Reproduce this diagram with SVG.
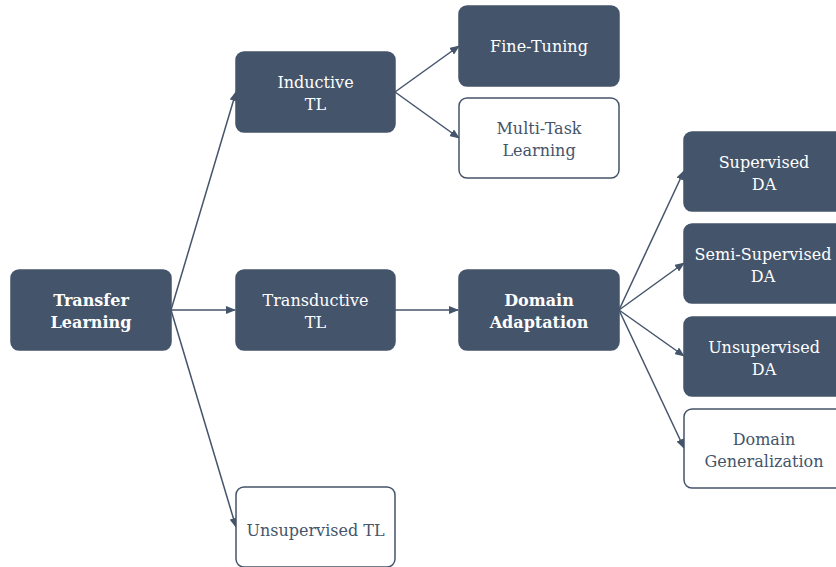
<svg xmlns="http://www.w3.org/2000/svg" width="836" height="567" viewBox="0 0 836 567">
<defs>
<marker id="ah" markerWidth="10" markerHeight="8" refX="9" refY="4" orient="auto" markerUnits="userSpaceOnUse">
<path d="M0,0 L10,4 L0,8 Z" fill="#44546A"/>
</marker>
<style>
.dark rect{fill:#44546A;stroke:#44546A;stroke-width:1.5}
.light rect{fill:#FFFFFF;stroke:#44546A;stroke-width:1.5}
text{font-family:"DejaVu Serif",serif;font-size:16px;text-anchor:middle}
.dark text{fill:#FFFFFF}
.light text{fill:#44546A}
.b{font-weight:bold}
#connectors line{stroke:#44546A;stroke-width:1.5;marker-end:url(#ah)}
</style>
</defs>
<rect width="836" height="567" fill="#FFFFFF"/>
<g id="connectors">
<line x1="171" y1="310" x2="236" y2="92"/>
<line x1="171" y1="310" x2="235" y2="310"/>
<line x1="171" y1="310" x2="236" y2="527"/>
<line x1="395" y1="92" x2="459" y2="46"/>
<line x1="395" y1="92" x2="459" y2="138"/>
<line x1="395" y1="310" x2="458" y2="310"/>
<line x1="619" y1="310" x2="684" y2="171"/>
<line x1="619" y1="310" x2="684" y2="263"/>
<line x1="619" y1="310" x2="684" y2="356"/>
<line x1="619" y1="310" x2="684" y2="448"/>
</g>
<g id="transfer-learning" class="dark">
<rect x="11" y="270" width="160" height="80" rx="8"/>
<text class="b" x="91" y="306">Transfer</text>
<text class="b" x="91" y="328">Learning</text>
</g>
<g id="inductive-tl" class="dark">
<rect x="236" y="52" width="159" height="80" rx="8"/>
<text x="315.5" y="88">Inductive</text>
<text x="315.5" y="110">TL</text>
</g>
<g id="transductive-tl" class="dark">
<rect x="236" y="270" width="159" height="80" rx="8"/>
<text x="315.5" y="306">Transductive</text>
<text x="315.5" y="328">TL</text>
</g>
<g id="unsupervised-tl" class="light">
<rect x="236" y="487" width="159" height="80" rx="8"/>
<text x="315.5" y="536">Unsupervised TL</text>
</g>
<g id="fine-tuning" class="dark">
<rect x="459" y="6" width="160" height="80" rx="8"/>
<text x="539" y="52">Fine-Tuning</text>
</g>
<g id="multi-task-learning" class="light">
<rect x="459" y="98" width="160" height="80" rx="8"/>
<text x="539" y="134">Multi-Task</text>
<text x="539" y="156">Learning</text>
</g>
<g id="domain-adaptation" class="dark">
<rect x="459" y="270" width="160" height="80" rx="8"/>
<text class="b" x="539" y="306">Domain</text>
<text class="b" x="539" y="328">Adaptation</text>
</g>
<g id="supervised-da" class="dark">
<rect x="684" y="132" width="160" height="79" rx="8"/>
<text x="764" y="168">Supervised</text>
<text x="764" y="190">DA</text>
</g>
<g id="semi-supervised-da" class="dark">
<rect x="684" y="224" width="160" height="79" rx="8"/>
<text x="763" y="260">Semi-Supervised</text>
<text x="763" y="282">DA</text>
</g>
<g id="unsupervised-da" class="dark">
<rect x="684" y="317" width="160" height="79" rx="8"/>
<text x="764" y="353">Unsupervised</text>
<text x="764" y="375">DA</text>
</g>
<g id="domain-generalization" class="light">
<rect x="684" y="409" width="160" height="79" rx="8"/>
<text x="764" y="445">Domain</text>
<text x="764" y="467">Generalization</text>
</g>
</svg>
